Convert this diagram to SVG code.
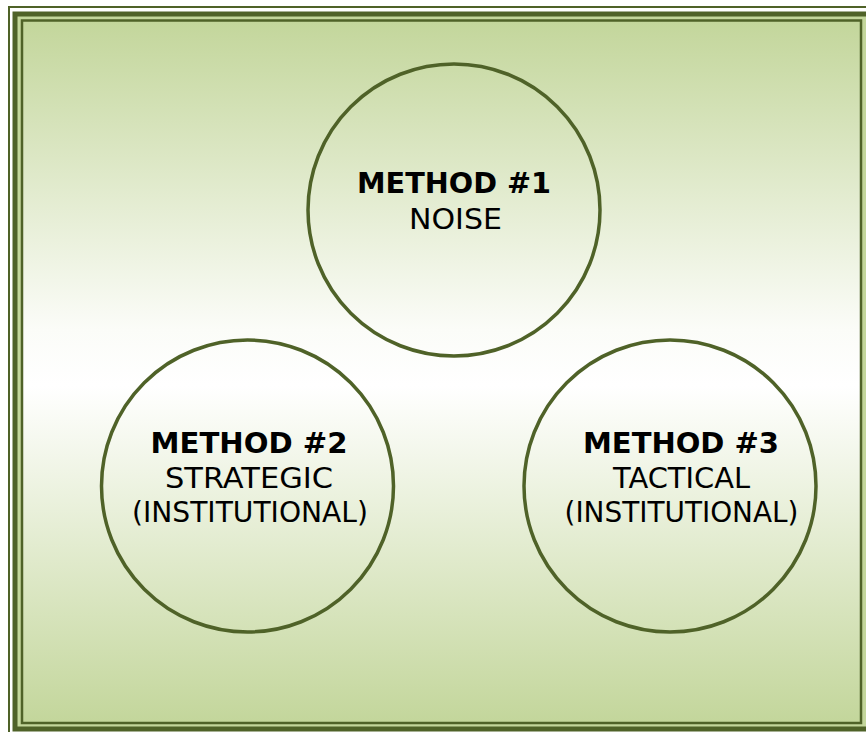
<svg xmlns="http://www.w3.org/2000/svg" width="866" height="732" viewBox="0 0 866 732">
  <defs>
    <linearGradient id="bg" x1="0" y1="0" x2="0" y2="1">
      <stop offset="0" stop-color="#c3d69b"/>
      <stop offset="0.44" stop-color="#fbfcf8"/>
      <stop offset="0.52" stop-color="#ffffff"/>
      <stop offset="1" stop-color="#c3d69b"/>
    </linearGradient>
    <style>
      .frame { fill: none; stroke: #4f6228; }
      .circ { fill: none; stroke: #4f6228; stroke-width: 3.5; }
      .t { font-family: "DejaVu Sans", Verdana, sans-serif; font-size: 27.5px; fill: #000; text-anchor: middle; }
      .b { font-weight: bold; }
    </style>
  </defs>
  <rect x="0" y="0" width="866" height="732" fill="#ffffff"/>
  <g id="frame">
    <rect x="15" y="14" width="870" height="715" fill="#c3d69b"/>
    <rect x="22" y="20.5" width="839" height="702.5" fill="url(#bg)"/>
    <rect class="frame" x="9" y="7" width="880" height="750" stroke-width="2"/>
    <rect class="frame" x="15" y="14" width="870" height="715" stroke-width="5"/>
    <rect class="frame" x="22" y="20.5" width="839" height="702.5" stroke-width="2.5"/>
  </g>
  <g id="connectors"/>
  <g id="method1">
    <circle class="circ" cx="454" cy="210" r="146"/>
    <text class="t b" x="454" y="193" textLength="194" lengthAdjust="spacingAndGlyphs">METHOD #1</text>
    <text class="t" x="455.5" y="229" textLength="93" lengthAdjust="spacingAndGlyphs">NOISE</text>
  </g>
  <g id="method2">
    <circle class="circ" cx="247.5" cy="486" r="146"/>
    <text class="t b" x="249" y="453" textLength="197" lengthAdjust="spacingAndGlyphs">METHOD #2</text>
    <text class="t" x="249" y="488" textLength="168" lengthAdjust="spacingAndGlyphs">STRATEGIC</text>
    <text class="t" x="250" y="522" textLength="236" lengthAdjust="spacingAndGlyphs">(INSTITUTIONAL)</text>
  </g>
  <g id="method3">
    <circle class="circ" cx="670" cy="486" r="146"/>
    <text class="t b" x="681" y="453" textLength="196" lengthAdjust="spacingAndGlyphs">METHOD #3</text>
    <text class="t" x="681.5" y="488" textLength="137" lengthAdjust="spacingAndGlyphs">TACTICAL</text>
    <text class="t" x="681.5" y="522" textLength="234" lengthAdjust="spacingAndGlyphs">(INSTITUTIONAL)</text>
  </g>
</svg>
